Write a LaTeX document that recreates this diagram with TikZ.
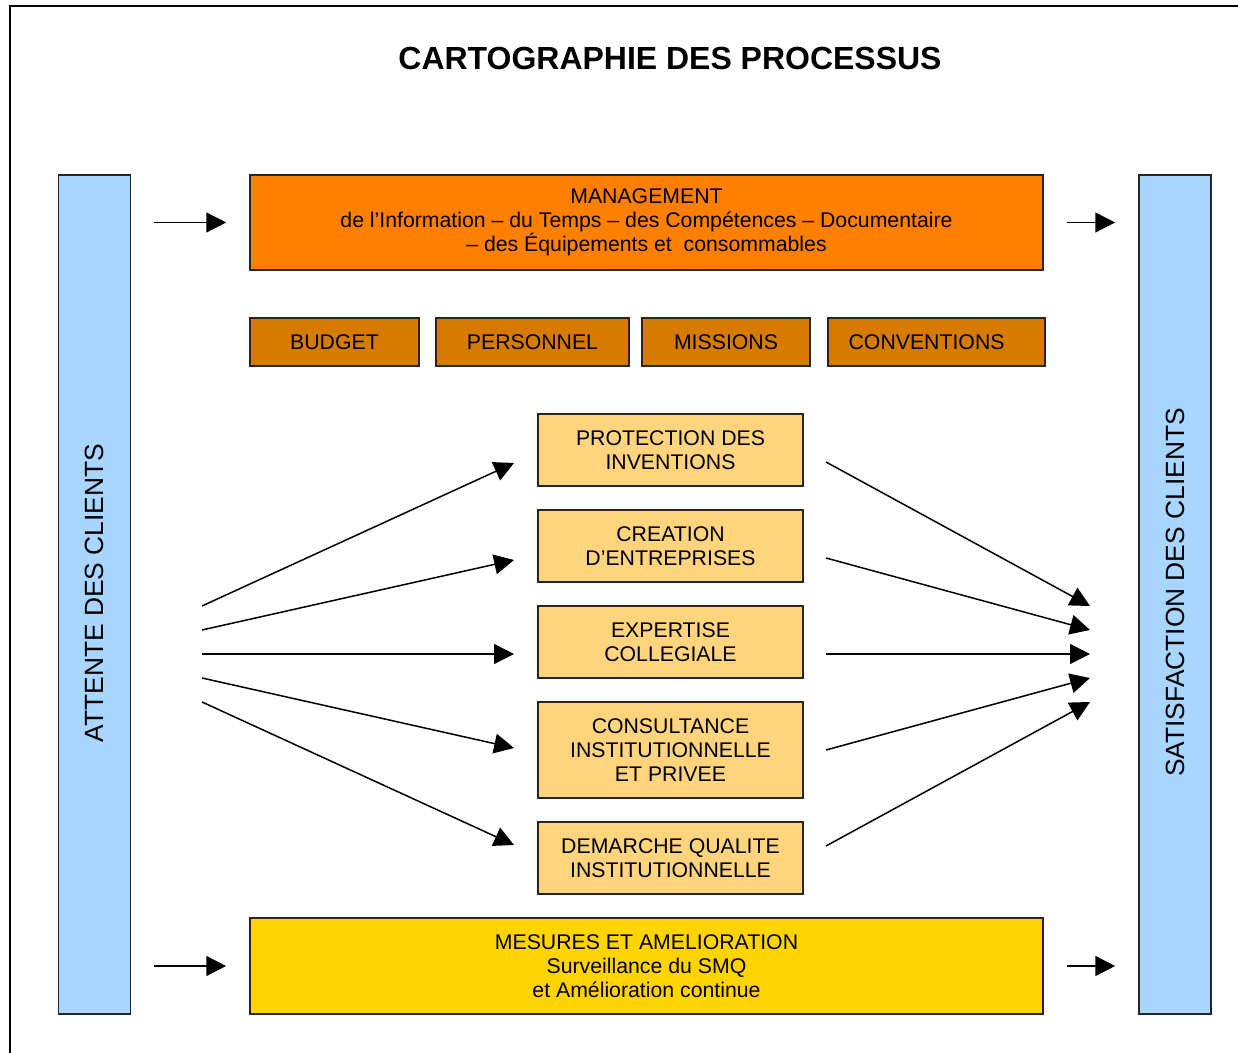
\documentclass[tikz,border=0pt]{standalone}
\usepackage{fontspec}
\setmainfont{Liberation Sans}
\usetikzlibrary{arrows.meta}
\definecolor{barblue}{HTML}{A8D6FF}
\definecolor{mgmtorange}{HTML}{FF7F00}
\definecolor{resorange}{HTML}{D67A00}
\definecolor{proclight}{HTML}{FFD47F}
\definecolor{mesgold}{HTML}{FFD400}
\begin{document}
\begin{tikzpicture}[x=0.02cm,y=-0.02cm,
  box/.style={draw=black!85, line width=1.1pt, inner sep=0pt, align=center,
    font=\fontsize{12.1}{13.6}\selectfont, text=black},
  bar/.style={box, fill=barblue, minimum width=72*0.02cm, minimum height=839*0.02cm,
    font=\fontsize{15}{18}\selectfont},
  resbox/.style={box, fill=resorange, minimum height=48*0.02cm},
  procbox/.style={box, fill=proclight, minimum width=265*0.02cm, minimum height=72*0.02cm},
  arr/.style={-{Triangle[length=11.3pt,width=11.3pt]}, line width=0.85pt},
  sidegap/.style={shorten <=13pt, shorten >=13pt}
]
\useasboundingbox (0,0) rectangle (1238,1053);
% outer frame
\draw[line width=1.2pt] (10,1053) -- (10,6) -- (1238,6);
% title
\node[font=\bfseries\fontsize{18.2}{21}\selectfont] (title) at (670,59) {CARTOGRAPHIE DES PROCESSUS};
% side bars
\node[bar] (attente) at (94.5,594.5) {};
\node[rotate=90, font=\fontsize{15}{18}\selectfont] (attentetxt) at (94.5,593) {ATTENTE DES CLIENTS};
\node[bar] (satisf) at (1175,594.5) {};
\node[rotate=90, font=\fontsize{15}{18}\selectfont] (satisftxt) at (1175,592.5) {SATISFACTION DES CLIENTS};
% management
\node[box, fill=mgmtorange, minimum width=793*0.02cm, minimum height=95*0.02cm] (mgmt) at (646.5,222.5)
  {MANAGEMENT\\de l’Information – du Temps – des Compétences – Documentaire\\– des Équipements et~ consommables};
% resources
\node[resbox, minimum width=169*0.02cm] (budget) at (334.5,342) {BUDGET};
\node[resbox, minimum width=193*0.02cm] (personnel) at (532.5,342) {PERSONNEL};
\node[resbox, minimum width=168*0.02cm] (missions) at (726,342) {MISSIONS};
\node[resbox, minimum width=217*0.02cm] (conventions) at (936.5,342) {CONVENTIONS\hspace*{11.3pt}};
% processes
\node[procbox] (prot) at (670.5,450) {PROTECTION DES\\INVENTIONS};
\node[procbox] (crea) at (670.5,546) {CREATION\\D’ENTREPRISES};
\node[procbox] (expe) at (670.5,642) {EXPERTISE\\COLLEGIALE};
\node[procbox, minimum height=96*0.02cm] (cons) at (670.5,750) {CONSULTANCE\\INSTITUTIONNELLE\\ET PRIVEE};
\node[procbox] (dema) at (670.5,858) {DEMARCHE QUALITE\\INSTITUTIONNELLE};
% mesures
\node[box, fill=mesgold, minimum width=793*0.02cm, minimum height=96*0.02cm] (mesures) at (646.5,966)
  {MESURES ET AMELIORATION\\Surveillance du SMQ\\et Amélioration continue};
% top and bottom arrows
\draw[arr, sidegap] (attente.east |- mgmt.west) -- (mgmt.west);
\draw[arr, sidegap] (mgmt.east) -- (satisf.west |- mgmt.east);
\draw[arr, sidegap] (attente.east |- mesures.west) -- (mesures.west);
\draw[arr, sidegap] (mesures.east) -- (satisf.west |- mesures.east);
% fan coordinates
\coordinate (l1) at (202,606);
\coordinate (l2) at (202,630);
\coordinate (l3) at (202,654);
\coordinate (l4) at (202,678);
\coordinate (l5) at (202,702);
\coordinate (pin1) at (514,463);
\coordinate (pin2) at (514,560);
\coordinate (pin3) at (514,654);
\coordinate (pin4) at (514,748);
\coordinate (pin5) at (514,845);
\coordinate (pout1) at (826,462);
\coordinate (pout2) at (826,558);
\coordinate (pout3) at (826,654);
\coordinate (pout4) at (826,750);
\coordinate (pout5) at (826,846);
\coordinate (r1) at (1090,606);
\coordinate (r2) at (1090,630);
\coordinate (r3) at (1090,654);
\coordinate (r4) at (1090,678);
\coordinate (r5) at (1090,702);
\foreach \i in {1,...,5}{
  \draw[arr] (l\i) -- (pin\i);
  \draw[arr] (pout\i) -- (r\i);
}
\end{tikzpicture}
\end{document}
